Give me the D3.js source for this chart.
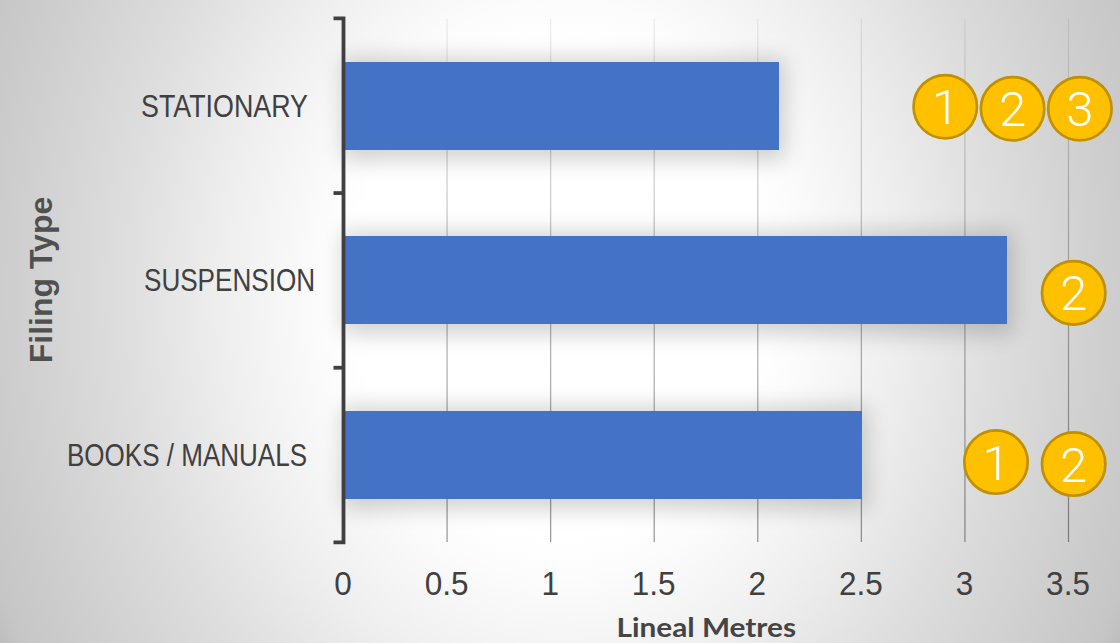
<!DOCTYPE html>
<html><head><meta charset="utf-8">
<script src="https://cdn.jsdelivr.net/npm/d3@7/dist/d3.min.js"></script>
<style>html,body{margin:0;padding:0;background:#fff;overflow:hidden}svg{display:block}</style>
</head><body><svg id="c" width="1120" height="643"></svg>
<script>
const categories = ["STATIONARY","SUSPENSION","BOOKS / MANUALS"];
const values = [2.1,3.2,2.5];
const xTicks = [0,0.5,1,1.5,2,2.5,3,3.5];
const badgeCategory = ["STATIONARY","STATIONARY","STATIONARY","SUSPENSION","BOOKS / MANUALS","BOOKS / MANUALS"];
const badgeAt = [2.905,3.23,3.555,3.525,3.15,3.525];
const badgeLabel = ["1","2","3","2","1","2"];

const svg = d3.select("#c");
const defs = svg.append("defs");
const grad = defs.append("radialGradient").attr("id","bg").attr("gradientUnits","userSpaceOnUse")
  .attr("cx",0).attr("cy",0).attr("r",1).attr("gradientTransform","translate(560,290) scale(680,820)");
[[0,"#ffffff"],[0.3,"#ffffff"],[0.35,"#fcfcfc"],[0.5,"#eeeeee"],[0.65,"#dddddd"],[0.82,"#cdcdcd"],[0.9,"#c6c6c6"],[0.95,"#b8b8b8"],[1,"#b4b4b4"]]
  .forEach(s=>grad.append("stop").attr("offset",s[0]).attr("stop-color",s[1]));
const gl = defs.append("linearGradient").attr("id","gridFade").attr("gradientUnits","userSpaceOnUse")
  .attr("x1",0).attr("x2",0).attr("y1",19).attr("y2",542);
[[0,0.07],[0.5,0.28],[1,0.42]].forEach(s=>gl.append("stop").attr("offset",s[0]).attr("stop-color","#000").attr("stop-opacity",s[1]));
defs.append("filter").attr("id","soft").attr("x","-10%").attr("y","-80%").attr("width","120%").attr("height","260%")
  .append("feGaussianBlur").attr("stdDeviation",11);
svg.append("rect").attr("width",1120).attr("height",643).attr("fill","url(#bg)");

const x = d3.scaleLinear().domain([0,3.5]).range([343.5,1068.5]);
const y = d3.scaleBand().domain(categories).range([18.4,542.4]);
const bh = 88;
const by = c => Math.round(y(c)+(y.bandwidth()-bh)/2);

svg.append("g").selectAll("rect").data(xTicks.slice(1)).join("rect")
  .attr("x",d=>x(d)-0.6).attr("width",1.2).attr("y",19).attr("height",523)
  .attr("fill","url(#gridFade)");

svg.append("g").selectAll("rect").data(categories).join("rect")
  .attr("x",x(0)).attr("y",c=>by(c)-4).attr("width",(c,i)=>x(values[i])-x(0)+6).attr("height",bh+14)
  .attr("fill","#000").attr("opacity",0.18).attr("filter","url(#soft)");

svg.append("g").selectAll("rect").data(categories).join("rect")
  .attr("x",343).attr("y",by).attr("width",(c,i)=>Math.ceil(x(values[i]))-343).attr("height",bh)
  .attr("fill","#4472c4");

const yAxis = svg.append("g");
const [y0,y1] = y.range();
const p = d3.path(); p.moveTo(333.5,y0); p.lineTo(343.5,y0); p.lineTo(343.5,y1); p.lineTo(333.5,y1);
yAxis.append("path").attr("fill","none").attr("stroke","#404040").attr("stroke-width",3.8).attr("d",p.toString());
yAxis.selectAll("line").data(categories.slice(1)).join("line")
  .attr("x1",333.5).attr("x2",343).attr("y1",c=>y(c)).attr("y2",c=>y(c)).attr("stroke","#404040").attr("stroke-width",3.8);

const catLen = {"STATIONARY":167,"SUSPENSION":171,"BOOKS / MANUALS":240};
const catEnd = {"STATIONARY":308,"SUSPENSION":315,"BOOKS / MANUALS":307};
svg.append("g").selectAll("text").data(categories).join("text")
  .attr("x",c=>catEnd[c]-catLen[c]).attr("y",c=>by(c)+bh/2+10.8)
  .attr("textLength",c=>catLen[c]).attr("lengthAdjust","spacingAndGlyphs")
  .attr("font-family","Liberation Sans").attr("font-size",32).attr("fill","#404040").text(c=>c);

svg.append("g").selectAll("text").data(xTicks).join("text")
  .attr("transform",d=>`translate(${x(d)-0.5},595) scale(0.97,1)`).attr("text-anchor","middle")
  .attr("font-family","Liberation Sans").attr("font-size",32.5).attr("fill","#404040").text(d=>d);

svg.append("text").attr("x",616.5).attr("y",637)
  .attr("textLength",179.5).attr("lengthAdjust","spacingAndGlyphs")
  .attr("font-family","Lato").attr("font-weight",700).attr("font-size",26.5).attr("fill","#444444").text("Lineal Metres");
svg.append("text").attr("transform","translate(52,280) rotate(-90)").attr("text-anchor","middle")
  .attr("font-family","Liberation Sans").attr("font-weight",700).attr("font-size",32).attr("fill","#505050").text("Filing Type");

const badgeDy = [1,3,3,12.5,7,9];
const b = svg.append("g").selectAll("g").data(badgeLabel).join("g")
  .attr("transform",(d,i)=>`translate(${x(badgeAt[i])},${y(badgeCategory[i])+y.bandwidth()/2+badgeDy[i]})`);
b.append("circle").attr("r",31.7).attr("fill","#ffc000").attr("stroke","#bf9000").attr("stroke-width",2.7);
b.append("text").attr("text-anchor","middle").attr("y",17.5).attr("font-family","Roboto").attr("font-weight",300)
  .attr("font-size",49).attr("fill","#fff").text(d=>d);
</script></body></html>
